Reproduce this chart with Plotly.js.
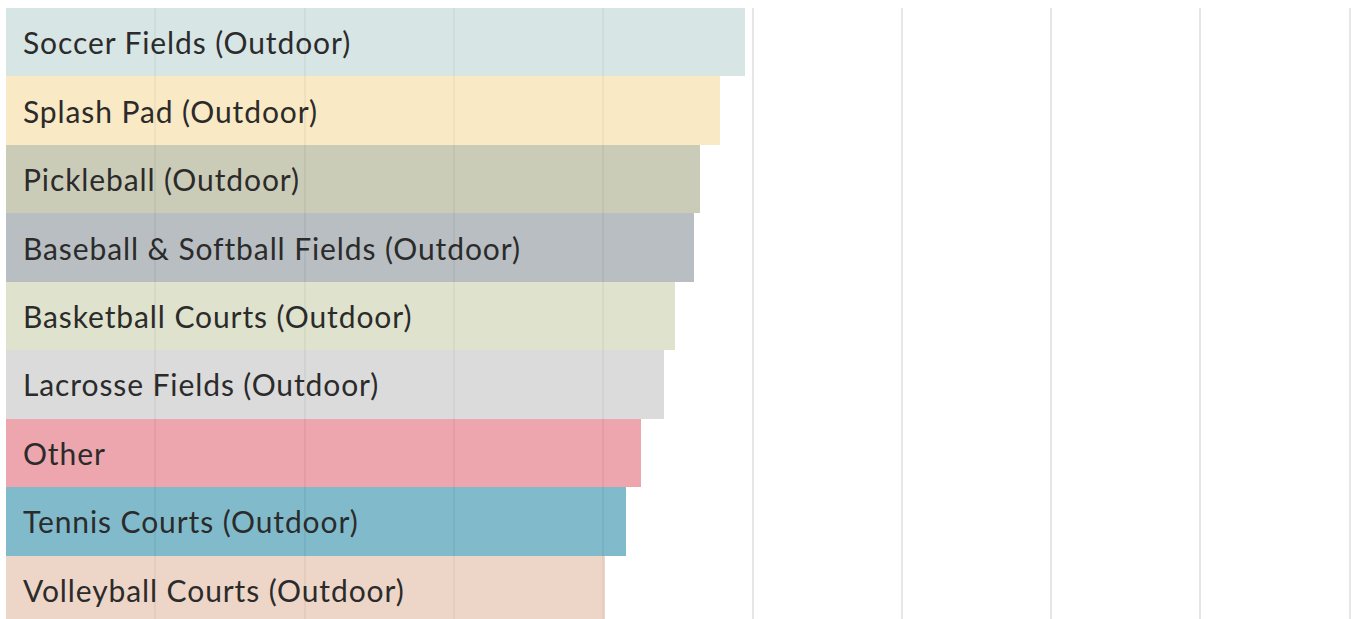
<!DOCTYPE html>
<html>
<head>
<meta charset="utf-8">
<script src="https://cdn.plot.ly/plotly-3.0.1.min.js"></script>
<style>
html,body{margin:0;padding:0;overflow:hidden;background:#fff;}
#chart{width:1352px;height:624px;}
#chart .annotation-text{letter-spacing:0.9px;}
</style>
</head>
<body>
<div id="chart"></div>
<script>
const categories = [
  "Soccer Fields (Outdoor)",
  "Splash Pad (Outdoor)",
  "Pickleball (Outdoor)",
  "Baseball & Softball Fields (Outdoor)",
  "Basketball Courts (Outdoor)",
  "Lacrosse Fields (Outdoor)",
  "Other",
  "Tennis Courts (Outdoor)",
  "Volleyball Courts (Outdoor)"
];
const values = [49.5, 47.8, 46.5, 46.1, 44.8, 44.1, 42.5, 41.5, 40.1];
const colors = ["#c2d7d7", "#f6dda4", "#afb192", "#929ba0", "#ced2b2", "#c8c8c8", "#e37682", "#3d96af", "#e3beaa"];

const trace = {
  type: "bar",
  orientation: "h",
  y: categories,
  x: values,
  marker: {color: colors, opacity: 0.65, line: {width: 0}},
  hoverinfo: "none"
};

const labelAnnotations = categories.map(c => ({
  x: 0, xref: "x",
  y: c, yref: "y",
  text: c,
  showarrow: false,
  xanchor: "left",
  yanchor: "middle",
  align: "left",
  xshift: 15,
  yshift: 0,
  font: {family: "Lato, 'Open Sans', sans-serif", size: 30, color: "#2b2b2b"}
}));

const layout = {
  width: 1352,
  height: 624,
  margin: {l: 6, r: 1, t: 8, b: 0, pad: 0},
  paper_bgcolor: "#ffffff",
  plot_bgcolor: "#ffffff",
  bargap: 0,
  showlegend: false,
  font: {family: "Lato, 'Open Sans', sans-serif", color: "#2b2b2b"},
  xaxis: {
    range: [0, 90.08],
    tick0: 0,
    dtick: 10,
    showgrid: true,
    gridcolor: "#e6e6e6",
    gridwidth: 2,
    zeroline: false,
    showticklabels: false,
    showline: false,
    ticks: ""
  },
  yaxis: {
    autorange: "reversed",
    showgrid: false,
    zeroline: false,
    showline: false,
    ticks: "",
    showticklabels: false
  },
  annotations: labelAnnotations
};

Plotly.newPlot("chart", [trace], layout, {displayModeBar: false, staticPlot: true});
</script>
</body>
</html>
